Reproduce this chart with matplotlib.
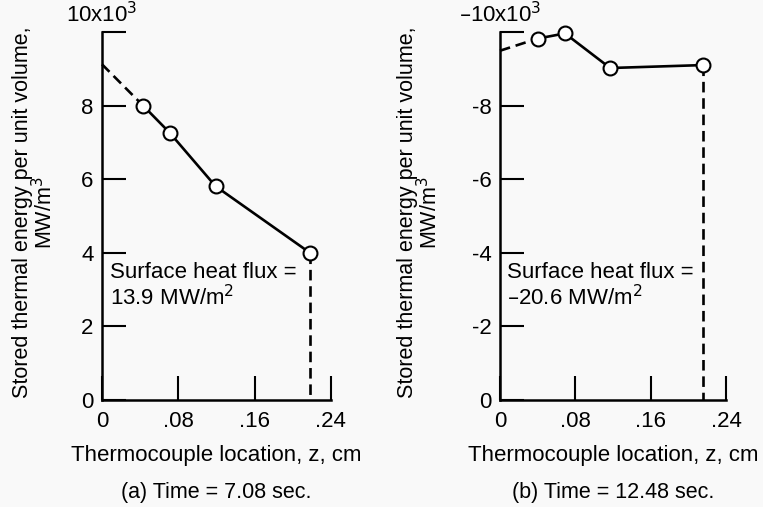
import matplotlib
matplotlib.use("Agg")
import matplotlib.pyplot as plt

plt.rcParams['font.family'] = ['Liberation Sans', 'DejaVu Sans']

# (a) Time = 7.08 sec.
zA = [0.043, 0.071, 0.119, 0.218]
energyA = [8.0, 7.26, 5.81, 4.0]
surfaceA = 9.12
fluxA = "13.9"

# (b) Time = 12.48 sec.
zB = [0.040, 0.069, 0.117, 0.216]
energyB = [-9.82, -9.96, -9.02, -9.10]
surfaceB = -9.49
fluxB = "\u201320.6"

xTicks = [0, 0.08, 0.16, 0.24]
xTickLabels = ["0", ".08", ".16", ".24"]
yTicksA = [0, 2, 4, 6, 8, 10]
yTicksB = [0, -2, -4, -6, -8, -10]

fig = plt.figure(figsize=(7.63, 5.07), dpi=100)
axA = fig.add_axes([0.1337, 0.211, 0.300, 0.726])
axB = fig.add_axes([0.6553, 0.211, 0.2962, 0.726])


def drawPanel(ax, z, energy, surface, yTicks, topLabel, flux, caption, labelX):
    ax.plot([0, z[0]], [surface, energy[0]], color='black', lw=1.9, ls=(0, (4, 2.2)), clip_on=False)
    ax.plot([z[-1], z[-1]], [energy[-1], 0], color='black', lw=1.9, ls=(0, (4, 2.2)), clip_on=False)
    ax.plot(z, energy, color='black', lw=1.9, marker='o', markersize=10,
            markerfacecolor='white', markeredgecolor='black', markeredgewidth=1.5,
            zorder=3, clip_on=False)

    ax.set_xlim(0, 0.24)
    ax.set_ylim(yTicks[0], yTicks[-1])
    ax.set_xticks(xTicks)
    ax.set_xticklabels(xTickLabels)
    ax.set_yticks(yTicks)
    labels = [str(t) if t >= 0 else "-" + str(-t) for t in yTicks]
    labels[-1] = ""
    ax.set_yticklabels(labels)
    ax.tick_params(direction='in', length=17.5, width=1.5, labelsize=16, pad=6, colors='black')
    ax.tick_params(axis='x', pad=8)
    for side in ['top', 'right']:
        ax.spines[side].set_visible(False)
    for side in ['left', 'bottom']:
        ax.spines[side].set_linewidth(1.8)
    ax.patch.set_alpha(0)

    ax.text(0.0, 1.012, topLabel, transform=ax.transAxes, ha='center', va='bottom', fontsize=16)
    ax.text(0.033, 0.375, "Surface heat flux =\n" + flux + " MW/m$^2$", transform=ax.transAxes,
            ha='left', va='top', fontsize=16, linespacing=1.1)
    ax.set_xlabel("Thermocouple location, z, cm", fontsize=16, labelpad=9)
    ax.set_ylabel("Stored thermal energy per unit volume,\nMW/m$^3$", fontsize=15.5,
                  linespacing=0.95)
    ax.yaxis.set_label_coords(labelX, 0.51)
    ax.text(0.5, -0.25, caption, transform=ax.transAxes, ha='center', va='center', fontsize=15.5)


drawPanel(axA, zA, energyA, surfaceA, yTicksA, "10x10$^3$", fluxA, "(a) Time = 7.08 sec.", -0.195)
drawPanel(axB, zB, energyB, surfaceB, yTicksB, "\u201310x10$^3$", fluxB, "(b) Time = 12.48 sec.", -0.254)

fig.savefig("out.png", dpi=100, facecolor='#f9f9f9')
